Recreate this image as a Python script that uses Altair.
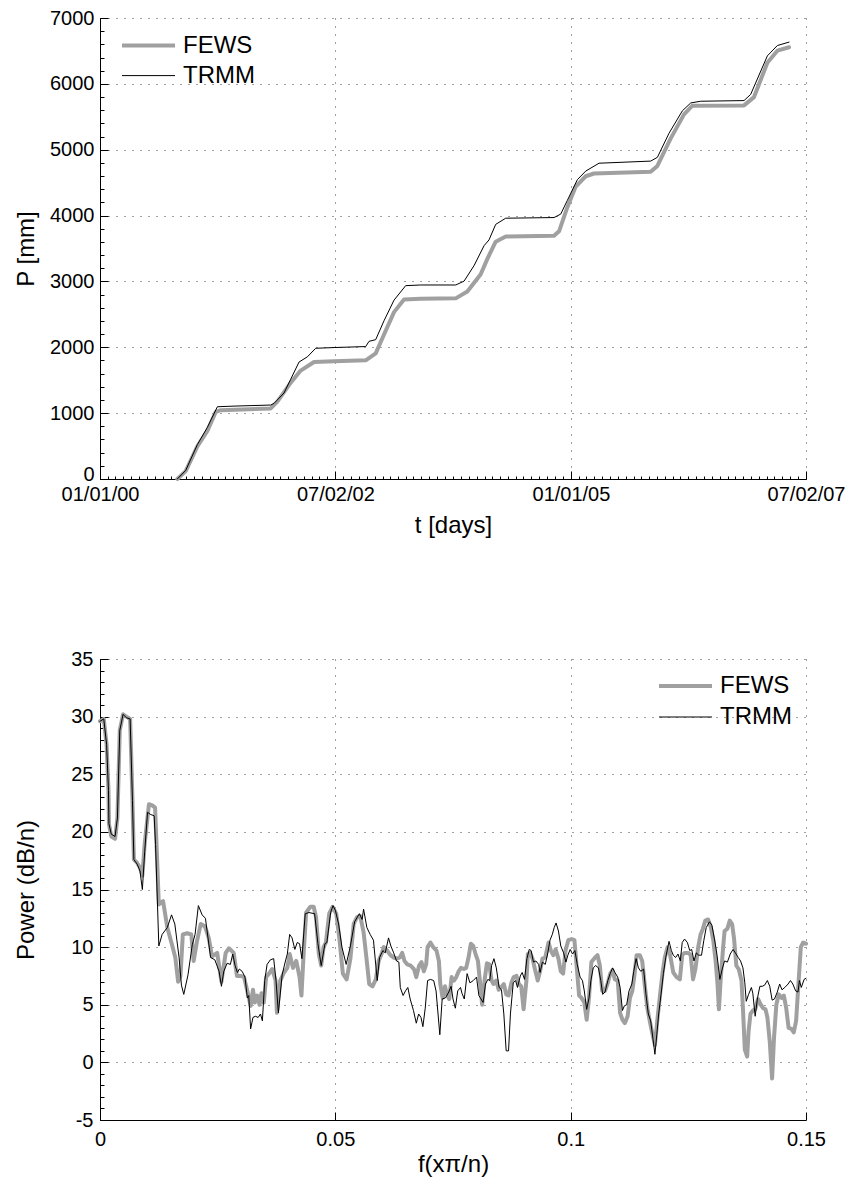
import json
from datetime import date

import altair as alt
import pandas as pd

FONT = "Liberation Sans"
SERIES = ["FEWS", "TRMM"]
SERIES_COLORS = ["#a0a0a0", "#000000"]
SERIES_WIDTHS = [4, 1]

# Cumulative precipitation, days counted from 01/01/00
fews_day = [300, 332.5, 377.7, 416.5, 448.9, 468.3, 662.3, 688.1, 739.9, 778.6,
            830.4, 908, 1030.8, 1069.6, 1101.9, 1140.7, 1179.5, 1244.2, 1380, 1425.2,
            1477, 1502.8, 1535.1, 1574, 1761.5, 1780.9, 1813.2, 1845.5, 1884.3, 1916.6,
            2136.5, 2162.4, 2214.1, 2265.8, 2298.2, 2498.6, 2537.4, 2589.1, 2627.9, 2673.2]
fews_p = [0, 120, 496, 731, 1019, 1045, 1071, 1175, 1463, 1646,
          1776, 1787, 1802, 1907, 2194, 2534, 2727, 2737, 2743, 2847,
          3108, 3343, 3604, 3683, 3693, 3761, 4127, 4440, 4597, 4639,
          4665, 4754, 5172, 5537, 5668, 5673, 5799, 6321, 6504, 6556]

trmm_day = [300, 332.5, 377.7, 416.5, 455.4, 520, 662.3, 675.2, 714, 739.9,
            772.2, 804.5, 836.8, 908, 1030.8, 1043.7, 1069.6, 1101.9, 1140.7, 1186,
            1244.2, 1380, 1412.3, 1451, 1489.9, 1509.3, 1535.1, 1574, 1761.5, 1787.3,
            1813.2, 1852, 1884.3, 1936, 2136.5, 2162.4, 2207.6, 2259.3, 2291.7, 2330.5,
            2498.6, 2524.4, 2589.1, 2627.9, 2673.2]
trmm_p = [0, 131, 522, 784, 1097, 1107, 1123, 1149, 1306, 1515,
          1776, 1855, 1985, 1996, 2011, 2090, 2116, 2403, 2716, 2936,
          2946, 2946, 3004, 3239, 3542, 3631, 3866, 3960, 3970, 4022,
          4231, 4545, 4675, 4795, 4827, 4884, 5250, 5590, 5710, 5736,
          5746, 5840, 6425, 6582, 6634]

date_ticks = [0, 913, 1827, 2739]
date_labels = ["01/01/00", "07/02/02", "01/01/05", "07/02/07"]
p_ticks = [0, 1000, 2000, 3000, 4000, 5000, 6000, 7000]

# Power spectrum
fews_f = [0.0000, 0.0008, 0.0014, 0.0018, 0.0019, 0.0024, 0.0032, 0.0037, 0.0042, 0.0049,
          0.0056, 0.0064, 0.0069, 0.0072, 0.0079, 0.0085, 0.0090, 0.0095, 0.0104, 0.0111,
          0.0117, 0.0120, 0.0125, 0.0134, 0.0143, 0.0153, 0.0160, 0.0166, 0.0171, 0.0176,
          0.0185, 0.0194, 0.0199, 0.0206, 0.0214, 0.0223, 0.0231, 0.0238, 0.0249, 0.0258,
          0.0267, 0.0274, 0.0284, 0.0291, 0.0299, 0.0306, 0.0313, 0.0320, 0.0325, 0.0329,
          0.0334, 0.0339, 0.0343, 0.0348, 0.0353, 0.0359, 0.0366, 0.0373, 0.0376, 0.0383,
          0.0391, 0.0398, 0.0403, 0.0410, 0.0417, 0.0424, 0.0428, 0.0433, 0.0438, 0.0447,
          0.0454, 0.0459, 0.0465, 0.0470, 0.0475, 0.0480, 0.0487, 0.0494, 0.0502, 0.0509,
          0.0516, 0.0524, 0.0532, 0.0539, 0.0546, 0.0553, 0.0560, 0.0566, 0.0572, 0.0579,
          0.0586, 0.0592, 0.0599, 0.0603, 0.0610, 0.0617, 0.0624, 0.0631, 0.0637, 0.0642,
          0.0647, 0.0653, 0.0660, 0.0667, 0.0672, 0.0678, 0.0683, 0.0688, 0.0693, 0.0696,
          0.0702, 0.0708, 0.0715, 0.0720, 0.0723, 0.0728, 0.0733, 0.0737, 0.0742, 0.0747,
          0.0752, 0.0757, 0.0762, 0.0767, 0.0773, 0.0778, 0.0783, 0.0788, 0.0793, 0.0798,
          0.0803, 0.0807, 0.0812, 0.0817, 0.0822, 0.0827, 0.0832, 0.0836, 0.0842, 0.0847,
          0.0852, 0.0858, 0.0863, 0.0868, 0.0874, 0.0879, 0.0885, 0.0890, 0.0895, 0.0900,
          0.0906, 0.0909, 0.0914, 0.0919, 0.0924, 0.0930, 0.0935, 0.0940, 0.0946, 0.0953,
          0.0958, 0.0963, 0.0968, 0.0974, 0.0979, 0.0984, 0.0989, 0.0995, 0.1002, 0.1008,
          0.1013, 0.1018, 0.1023, 0.1029, 0.1034, 0.1039, 0.1044, 0.1052, 0.1057, 0.1062,
          0.1067, 0.1073, 0.1079, 0.1084, 0.1089, 0.1094, 0.1100, 0.1105, 0.1110, 0.1115,
          0.1121, 0.1126, 0.1131, 0.1135, 0.1140, 0.1147, 0.1152, 0.1158, 0.1163, 0.1168,
          0.1174, 0.1179, 0.1184, 0.1190, 0.1195, 0.1200, 0.1206, 0.1211, 0.1218, 0.1225,
          0.1232, 0.1237, 0.1242, 0.1250, 0.1255, 0.1260, 0.1265, 0.1271, 0.1276, 0.1281,
          0.1286, 0.1292, 0.1298, 0.1303, 0.1308, 0.1312, 0.1315, 0.1319, 0.1324, 0.1327,
          0.1333, 0.1338, 0.1343, 0.1347, 0.1352, 0.1357, 0.1363, 0.1366, 0.1370, 0.1375,
          0.1378, 0.1382, 0.1387, 0.1392, 0.1398, 0.1404, 0.1409, 0.1414, 0.1418, 0.1423,
          0.1428, 0.1432, 0.1437, 0.1442, 0.1448, 0.1453, 0.1458, 0.1463, 0.1469, 0.1474,
          0.1479, 0.1483, 0.1489, 0.1494, 0.1500]
fews_db = [29.6, 29.8, 27.6, 23.6, 20.7, 19.6, 19.4, 21.2, 28.8, 30.2,
           30.0, 29.8, 22.7, 17.6, 17.3, 16.9, 16.2, 19.0, 22.4, 22.3,
           22.1, 19.0, 13.7, 14.0, 11.7, 10.2, 9.1, 7.0, 7.5, 11.1,
           11.2, 11.1, 8.8, 10.5, 12.0, 11.8, 10.8, 9.2, 9.5, 7.0,
           9.5, 9.9, 9.5, 7.5, 7.5, 7.4, 6.2, 4.9, 6.3, 5.2,
           5.8, 5.0, 6.0, 5.2, 7.4, 7.7, 8.1, 7.1, 4.3, 7.1,
           7.8, 8.2, 9.4, 8.2, 8.8, 7.4, 5.8, 9.7, 13.0, 13.5,
           13.5, 12.6, 9.4, 8.4, 10.0, 10.4, 12.9, 13.5, 12.9, 10.6,
           7.7, 7.2, 9.0, 12.0, 12.6, 12.7, 11.3, 9.1, 6.8, 6.6,
           7.2, 8.8, 9.5, 10.0, 9.7, 9.3, 9.1, 9.0, 9.1, 9.5,
           8.8, 8.5, 8.4, 8.1, 7.4, 8.4, 8.7, 7.9, 8.5, 10.0,
           10.4, 10.0, 9.7, 8.8, 6.8, 5.6, 6.6, 5.9, 5.5, 7.4,
           7.1, 7.4, 7.9, 8.2, 8.1, 8.2, 9.1, 10.3, 10.1, 9.4,
           8.8, 7.1, 5.0, 7.1, 8.6, 8.5, 7.1, 6.8, 7.1, 6.3,
           6.5, 6.8, 5.9, 5.8, 6.9, 7.4, 7.5, 6.8, 6.6, 4.6,
           7.1, 9.4, 9.5, 9.0, 8.1, 7.1, 7.9, 9.0, 9.1, 10.4,
           9.7, 9.3, 9.8, 9.0, 7.9, 7.7, 9.7, 10.6, 10.7, 10.6,
           8.2, 5.8, 5.6, 5.2, 3.7, 5.6, 8.7, 9.1, 9.3, 8.4,
           6.2, 6.2, 6.9, 7.7, 8.0, 7.2, 7.1, 4.3, 3.7, 3.4,
           4.0, 5.6, 6.2, 7.4, 9.3, 9.3, 8.8, 6.5, 4.7, 3.6,
           2.4, 1.5, 3.6, 5.9, 7.7, 9.1, 10.0, 9.4, 7.8, 7.4,
           7.2, 9.3, 9.5, 9.5, 9.3, 7.2, 8.1, 10.0, 11.1, 11.6,
           12.3, 12.4, 11.7, 10.6, 8.8, 6.8, 4.6, 7.4, 10.0, 11.4,
           11.6, 12.3, 12.0, 10.8, 8.4, 8.1, 7.1, 4.7, 1.1, 0.5,
           2.7, 4.2, 4.5, 4.6, 5.5, 5.0, 4.7, 4.6, 3.9, 1.8,
           -1.4, 2.1, 5.0, 5.9, 5.6, 5.8, 4.7, 3.0, 2.9, 2.6,
           3.6, 6.2, 10.0, 10.4, 10.3]

trmm_f = [0.0000, 0.0008, 0.0014, 0.0018, 0.0019, 0.0024, 0.0032, 0.0037, 0.0042, 0.0049,
          0.0056, 0.0064, 0.0069, 0.0072, 0.0079, 0.0085, 0.0090, 0.0095, 0.0101, 0.0108,
          0.0115, 0.0118, 0.0125, 0.0132, 0.0143, 0.0152, 0.0159, 0.0168, 0.0173, 0.0178,
          0.0187, 0.0196, 0.0202, 0.0209, 0.0217, 0.0224, 0.0235, 0.0244, 0.0253, 0.0258,
          0.0263, 0.0270, 0.0277, 0.0282, 0.0287, 0.0292, 0.0296, 0.0302, 0.0308, 0.0313,
          0.0316, 0.0320, 0.0325, 0.0330, 0.0336, 0.0341, 0.0345, 0.0350, 0.0355, 0.0362,
          0.0369, 0.0374, 0.0379, 0.0387, 0.0394, 0.0398, 0.0403, 0.0408, 0.0414, 0.0419,
          0.0424, 0.0429, 0.0436, 0.0444, 0.0456, 0.0463, 0.0470, 0.0478, 0.0482, 0.0490,
          0.0495, 0.0500, 0.0507, 0.0514, 0.0523, 0.0532, 0.0541, 0.0551, 0.0557, 0.0560,
          0.0567, 0.0574, 0.0581, 0.0589, 0.0594, 0.0601, 0.0606, 0.0613, 0.0618, 0.0624,
          0.0630, 0.0635, 0.0638, 0.0644, 0.0649, 0.0654, 0.0659, 0.0666, 0.0672, 0.0677,
          0.0682, 0.0686, 0.0691, 0.0696, 0.0702, 0.0709, 0.0714, 0.0722, 0.0727, 0.0734,
          0.0741, 0.0746, 0.0750, 0.0755, 0.0760, 0.0766, 0.0769, 0.0774, 0.0780, 0.0786,
          0.0793, 0.0800, 0.0805, 0.0808, 0.0814, 0.0819, 0.0824, 0.0828, 0.0832, 0.0837,
          0.0842, 0.0848, 0.0853, 0.0858, 0.0863, 0.0868, 0.0872, 0.0878, 0.0883, 0.0887,
          0.0893, 0.0897, 0.0902, 0.0907, 0.0912, 0.0916, 0.0921, 0.0926, 0.0932, 0.0935,
          0.0940, 0.0946, 0.0951, 0.0956, 0.0961, 0.0965, 0.0969, 0.0974, 0.0979, 0.0985,
          0.0990, 0.0994, 0.0999, 0.1004, 0.1009, 0.1014, 0.1020, 0.1025, 0.1029, 0.1034,
          0.1039, 0.1043, 0.1048, 0.1053, 0.1059, 0.1064, 0.1068, 0.1073, 0.1079, 0.1084,
          0.1089, 0.1094, 0.1100, 0.1105, 0.1110, 0.1114, 0.1119, 0.1124, 0.1130, 0.1134,
          0.1139, 0.1144, 0.1149, 0.1155, 0.1160, 0.1165, 0.1170, 0.1175, 0.1179, 0.1183,
          0.1187, 0.1192, 0.1197, 0.1202, 0.1209, 0.1214, 0.1218, 0.1223, 0.1228, 0.1233,
          0.1237, 0.1242, 0.1248, 0.1253, 0.1257, 0.1262, 0.1267, 0.1272, 0.1278, 0.1283,
          0.1288, 0.1295, 0.1300, 0.1306, 0.1311, 0.1317, 0.1322, 0.1327, 0.1333, 0.1339,
          0.1345, 0.1350, 0.1356, 0.1361, 0.1366, 0.1370, 0.1373, 0.1378, 0.1384, 0.1387,
          0.1392, 0.1397, 0.1402, 0.1407, 0.1412, 0.1418, 0.1423, 0.1428, 0.1433, 0.1439,
          0.1444, 0.1449, 0.1455, 0.1462, 0.1467, 0.1472, 0.1478, 0.1483, 0.1486, 0.1490,
          0.1496, 0.1500]
trmm_db = [29.6, 29.8, 27.6, 23.6, 20.7, 19.8, 19.6, 21.2, 28.8, 30.2,
           29.9, 29.8, 22.7, 17.6, 17.2, 16.6, 15.0, 18.3, 21.7, 21.5,
           21.4, 18.9, 10.1, 11.1, 11.7, 12.8, 12.0, 9.1, 6.7, 5.9,
           7.6, 10.2, 11.1, 13.6, 12.8, 12.5, 9.1, 8.9, 7.9, 6.6,
           7.9, 8.6, 8.5, 9.4, 8.4, 7.8, 8.1, 7.9, 7.4, 5.6,
           5.8, 2.9, 3.9, 4.0, 3.9, 4.2, 3.6, 7.1, 8.5, 8.9,
           9.0, 7.1, 4.3, 7.6, 8.8, 9.4, 11.1, 10.8, 9.8, 10.4,
           10.3, 9.0, 12.9, 13.0, 12.9, 10.3, 8.4, 10.3, 10.4, 13.0,
           13.6, 13.2, 12.0, 10.0, 8.5, 10.1, 12.2, 12.9, 12.4, 13.3,
           11.7, 11.1, 10.6, 7.1, 9.1, 9.7, 9.5, 10.8, 10.1, 9.5,
           8.8, 8.7, 6.5, 5.8, 6.2, 6.5, 5.5, 4.5, 3.4, 4.2,
           3.9, 3.1, 4.7, 7.1, 7.2, 7.1, 6.2, 2.4, 5.5, 5.6,
           6.1, 6.6, 5.5, 4.7, 6.2, 6.5, 6.0, 5.5, 7.7, 6.9,
           7.1, 7.4, 5.8, 5.6, 5.2, 6.8, 7.2, 7.1, 8.4, 9.0,
           8.2, 6.5, 6.3, 4.2, 1.0, 1.0, 4.2, 6.9, 7.1, 6.5,
           7.5, 7.8, 7.2, 9.0, 9.8, 9.7, 8.7, 8.8, 8.5, 7.8,
           8.7, 8.5, 9.4, 10.6, 11.1, 11.7, 12.1, 11.4, 10.1, 9.5,
           8.7, 9.3, 9.8, 9.4, 9.7, 8.5, 7.4, 7.1, 6.2, 4.6,
           5.6, 7.1, 8.2, 8.4, 8.2, 7.1, 5.9, 6.1, 7.1, 7.7,
           8.2, 7.8, 7.4, 6.5, 4.5, 4.9, 5.0, 6.2, 6.8, 7.9,
           9.0, 8.2, 7.9, 8.1, 5.9, 4.2, 3.6, 2.0, 0.7, 2.4,
           4.2, 5.9, 7.7, 9.1, 10.5, 9.7, 9.3, 9.1, 9.4, 8.8,
           10.4, 10.7, 10.4, 9.7, 9.8, 8.8, 9.5, 9.3, 9.3, 10.6,
           11.7, 12.2, 11.9, 10.6, 9.3, 7.2, 8.1, 8.8, 8.7, 9.4,
           9.8, 9.5, 9.1, 8.8, 8.2, 6.9, 5.3, 5.9, 6.5, 6.0,
           4.0, 5.6, 6.6, 6.6, 6.7, 7.1, 6.6, 5.4, 5.5, 6.1,
           6.8, 6.3, 6.5, 6.8, 7.1, 6.8, 6.2, 6.1, 7.1, 6.5,
           7.2, 7.3]

f_ticks = [0, 0.05, 0.1, 0.15]
db_ticks = [-5, 0, 5, 10, 15, 20, 25, 30, 35]

PLOT_W = 706
PLOT_H = 461

# minor tick positions: first day of every month, every 200 mm, every 1 dB
t0 = date(2000, 1, 1)
month_ticks = [(date(y, m, 1) - t0).days for y in range(2000, 2008) for m in range(1, 13)
               if (date(y, m, 1) - t0).days <= 2739]
p_minor = list(range(0, 7001, 200))
db_minor = list(range(-5, 36))

color_scale = alt.Scale(domain=SERIES, range=SERIES_COLORS)
width_scale = alt.Scale(domain=SERIES, range=SERIES_WIDTHS)


def series_legend(x, y, row_h):
    return alt.Legend(
        title=None, orient="none", legendX=x, legendY=y,
        symbolType="stroke", symbolSize=2809, clipHeight=row_h,
        rowPadding=0, padding=0, labelOffset=6,
        labelFont=FONT, labelFontSize=24, labelColor="black",
    )


def axis_style(**kw):
    base = dict(
        grid=True, gridDash=[1, 7], gridColor="#000000", gridOpacity=0.75, gridWidth=1,
        domainColor="black", domainWidth=1, ticks=False, tickSize=0,
        labelFont=FONT, labelFontSize=20, labelColor="black",
        labelFlush=False, labelOverlap=False, labelBound=False,
        titleFont=FONT, titleFontSize=24, titleFontWeight="normal", titleColor="black",
        titleAlign="center", titleBaseline="middle",
    )
    base.update(kw)
    return alt.Axis(**base)


def inner_ticks(orient, offset, values, size):
    # tick-only axis drawn on the opposite side and pulled back onto the frame,
    # so that its ticks point into the plot
    return alt.Axis(orient=orient, offset=offset, values=values, tickSize=size,
                    tickColor="black", tickWidth=1, labels=False, domain=False,
                    grid=False, title=None)


def tick_layers(df, xf, yf, xscale, yscale, xvals, yvals):
    layers = []
    for vals, size in xvals:
        layers.append(alt.Chart(df).mark_point(opacity=0, size=1).encode(
            x=alt.X(xf, scale=xscale, axis=inner_ticks("top", -PLOT_H, vals, size)),
            y=alt.Y(yf, scale=yscale, axis=None)))
    for vals, size in yvals:
        layers.append(alt.Chart(df).mark_point(opacity=0, size=1).encode(
            x=alt.X(xf, scale=xscale, axis=None),
            y=alt.Y(yf, scale=yscale, axis=inner_ticks("right", -PLOT_W, vals, size))))
    return layers


date_expr = "{}[indexof({}, datum.value)]".format(json.dumps(date_labels), json.dumps(date_ticks))

day_scale = alt.Scale(domain=[0, 2739], nice=False, zero=False)
p_scale = alt.Scale(domain=[0, 7000], nice=False)
cum_x = alt.X("day:Q", scale=day_scale,
              axis=axis_style(values=date_ticks, labelExpr=date_expr, title="t [days]",
                              labelPadding=5, titleX=PLOT_W / 2, titleY=46))
# the lowest value label sits a little above its tick so it clears the date labels
cum_y = alt.Y("P:Q", scale=p_scale,
              axis=axis_style(values=p_ticks, labelExpr="'' + datum.value", title="P [mm]",
                              labelPadding=6, titleX=-74, titleY=PLOT_H / 2, titleAngle=270,
                              labelOffset={"condition": {"test": "datum.value === 0", "value": -5},
                                           "value": 0}))

top_legend = series_legend(20, 12.6, 30)


def cum_layer(days, values, name):
    df = pd.DataFrame({"day": days, "P": values, "series": name})
    return alt.Chart(df).mark_line(strokeJoin="round", strokeCap="round").encode(
        x=cum_x, y=cum_y,
        color=alt.Color("series:N", scale=color_scale, legend=top_legend),
        strokeWidth=alt.StrokeWidth("series:N", scale=width_scale, legend=top_legend),
    )


cum_df = pd.DataFrame({"day": trmm_day, "P": trmm_p})
top = alt.layer(
    alt.layer(cum_layer(fews_day, fews_p, "FEWS"), cum_layer(trmm_day, trmm_p, "TRMM")),
    *tick_layers(cum_df, "day:Q", "P:Q", day_scale, p_scale,
                 [(date_ticks, 8), (month_ticks, 3)], [(p_ticks, 8), (p_minor, 4)]),
).resolve_axis(x="independent", y="independent").properties(width=PLOT_W, height=PLOT_H)

f_scale = alt.Scale(domain=[0, 0.15], nice=False, zero=False)
db_scale = alt.Scale(domain=[-5, 35], nice=False, zero=False)
psd_x = alt.X("f:Q", scale=f_scale,
              axis=axis_style(values=f_ticks, labelExpr="'' + datum.value", title="f(xπ/n)",
                              labelPadding=9, titleX=PLOT_W / 2, titleY=44))
psd_y = alt.Y("db:Q", scale=db_scale,
              axis=axis_style(values=db_ticks, labelExpr="'' + datum.value", title="Power (dB/n)",
                              labelPadding=7, titleX=-74, titleY=PLOT_H / 2, titleAngle=270))

bottom_legend = series_legend(557, 11.5, 31)


def psd_layer(freqs, values, name):
    df = pd.DataFrame({"f": freqs, "db": values, "series": name})
    return alt.Chart(df).mark_line(strokeJoin="round", strokeCap="round").encode(
        x=psd_x, y=psd_y,
        color=alt.Color("series:N", scale=color_scale, legend=bottom_legend),
        strokeWidth=alt.StrokeWidth("series:N", scale=width_scale, legend=bottom_legend),
    )


psd_df = pd.DataFrame({"f": trmm_f, "db": trmm_db})
bottom = alt.layer(
    alt.layer(psd_layer(fews_f, fews_db, "FEWS"), psd_layer(trmm_f, trmm_db, "TRMM")),
    *tick_layers(psd_df, "f:Q", "db:Q", f_scale, db_scale,
                 [(f_ticks, 8)], [(db_ticks, 8), (db_minor, 4)]),
).resolve_axis(x="independent", y="independent").properties(width=PLOT_W, height=PLOT_H)

chart = alt.vconcat(top, bottom, spacing=110).resolve_scale(
    color="independent", strokeWidth="independent"
).properties(
    padding={"left": 13, "top": 7, "right": 0, "bottom": 0},
    background="white",
).configure_view(stroke="transparent")

chart.save("out.html", embed_options={"renderer": "svg", "actions": False})
